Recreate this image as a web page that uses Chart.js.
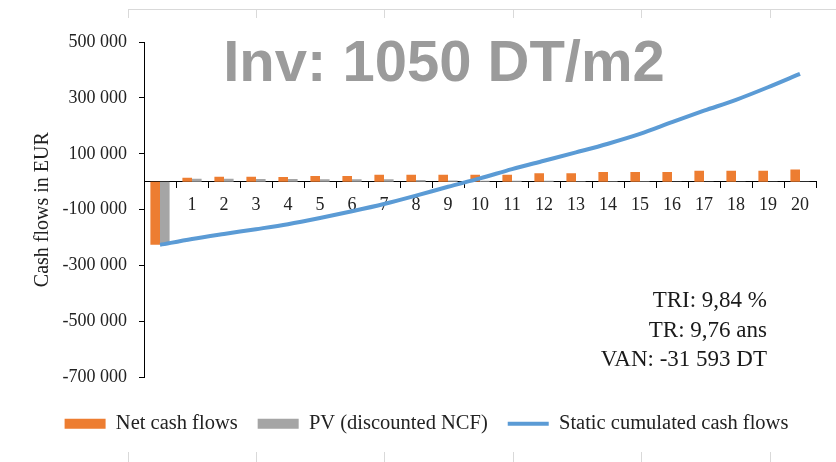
<!DOCTYPE html>
<html>
<head>
<meta charset="utf-8">
<script src="https://cdn.jsdelivr.net/npm/chart.js@4/dist/chart.umd.min.js"></script>
<style>
html, body { margin: 0; padding: 0; background: #fff; }
#wrap { width: 836px; height: 462px; position: relative; }
</style>
</head>
<body>
<div id="wrap"><canvas id="canvas"></canvas></div>
<script>
// annees du projet
const years = ["0","1","2","3","4","5","6","7","8","9","10","11","12","13","14","15","16","17","18","19","20"];
// flux nets (EUR)
const netCashFlows = [-226000, 14000, 18000, 18000, 17000, 20000, 20000, 25000, 25000, 25000, 25000, 25000, 30000, 30000, 35000, 35000, 35000, 39000, 39000, 39000, 44000];
// valeur actualisee
const pvDiscounted = [-220000, 11000, 11000, 10000, 10000, 9000, 9000, 9000, 6000, 4000, 3000, 3000, 3000, 2000, 2000, 2000, 1000, 1000, 1000, 1000, 1000];
// flux cumules
const cumulated = [-226000, -205000, -187000, -170000, -152000, -130000, -106000, -80000, -50000, -18000, 12000, 45000, 75000, 105000, 136000, 171000, 213000, 254000, 293000, 338000, 386000];
// graduations de l'axe vertical
const yTicks = [-700000, -500000, -300000, -100000, 100000, 300000, 500000];

const titleText = "Inv: 1050 DT/m2";
const notes = ["TRI: 9,84 %", "TR: 9,76 ans", "VAN: -31 593 DT"];

const serif = "'Liberation Serif', 'Times New Roman', serif";

function fmt(v) {
  let s = String(Math.abs(v)).replace(/\B(?=(\d{3})+(?!\d))/g, " ");
  return (v < 0 ? "-" : "") + s;
}

// fond + traits du tableau autour de l'image
const decor = {
  id: "decor",
  beforeDraw(chart) {
    const c = chart.ctx;
    c.save();
    c.fillStyle = "#fff";
    c.fillRect(0, 0, chart.width, chart.height);
    c.strokeStyle = "#d9d9d9";
    c.lineWidth = 1;
    c.beginPath();
    c.moveTo(128, 9.5); c.lineTo(836, 9.5);
    [128.5, 256.5, 384.5, 513.5, 641.5, 770.5].forEach(x => {
      c.moveTo(x, 10); c.lineTo(x, 18);
      c.moveTo(x, 452); c.lineTo(x, 462);
    });
    c.stroke();
    c.restore();
  },
  afterDraw(chart) {
    const c = chart.ctx;
    c.save();
    c.fillStyle = "#9b9b9b";
    c.font = "bold 58px 'Liberation Sans', Arial, sans-serif";
    c.textAlign = "center";
    c.textBaseline = "alphabetic";
    c.fillText(titleText, 444, 81);
    c.fillStyle = "#1a1a1a";
    c.font = "23px " + serif;
    c.textAlign = "right";
    notes.forEach((t, i) => c.fillText(t, 767, 307 + i * 29.5));
    c.restore();
  }
};

const ctx = document.getElementById("canvas").getContext("2d");
const chart = new Chart(ctx, {
  type: "bar",
  data: {
    labels: years,
    datasets: [{
      label: "Net cash flows",
      data: netCashFlows,
      backgroundColor: "#ED7D31",
      borderWidth: 0,
      pointStyle: "rect",
      categoryPercentage: 0.6,
      barPercentage: 1.0
    }, {
      label: "PV (discounted NCF)",
      data: pvDiscounted,
      backgroundColor: "#A5A5A5",
      borderWidth: 0,
      pointStyle: "rect",
      categoryPercentage: 0.6,
      barPercentage: 1.0
    }, {
      type: "line",
      label: "Static cumulated cash flows",
      data: cumulated,
      borderColor: "#5B9BD5",
      backgroundColor: "#5B9BD5",
      borderWidth: 4,
      pointRadius: 0,
      pointStyle: "line",
      cubicInterpolationMode: "monotone",
      order: -1
    }]
  },
  options: {
    responsive: true,
    maintainAspectRatio: false,
    animation: false,
    devicePixelRatio: 1,
    layout: { padding: { left: 37, right: 20, top: 42, bottom: 18 } },
    plugins: {
      tooltip: { enabled: false },
      legend: {
        position: "bottom",
        title: { display: true, text: " ", font: { size: 1 }, padding: { top: 15, bottom: 0 } },
        labels: {
          usePointStyle: true,
          pointStyleWidth: 41,
          boxHeight: 10,
          padding: 20,
          color: "#222",
          font: { family: serif, size: 20.5 },
          sort: (a, b) => a.datasetIndex - b.datasetIndex
        }
      }
    },
    scales: {
      x: {
        position: { y: 0 },
        z: 1,
        grid: { drawOnChartArea: false, tickLength: 6, color: "#000", offset: true },
        border: { color: "#000" },
        ticks: { color: "#222", padding: 7, maxRotation: 0, autoSkip: false, font: { family: serif, size: 18 } }
      },
      y: {
        min: -700000,
        max: 500000,
        afterBuildTicks: s => { s.ticks = yTicks.map(v => ({ value: v })); },
        afterFit: s => { s.width = 107; },
        grid: { drawOnChartArea: false, tickLength: 5, color: "#000" },
        border: { color: "#000" },
        ticks: { color: "#222", padding: 12, font: { family: serif, size: 18 }, callback: v => fmt(v) },
        title: { display: true, text: "Cash flows in EUR", color: "#222", font: { family: serif, size: 20 }, padding: { top: -6, bottom: 0 } }
      }
    }
  },
  plugins: [decor]
});
</script>
</body>
</html>
